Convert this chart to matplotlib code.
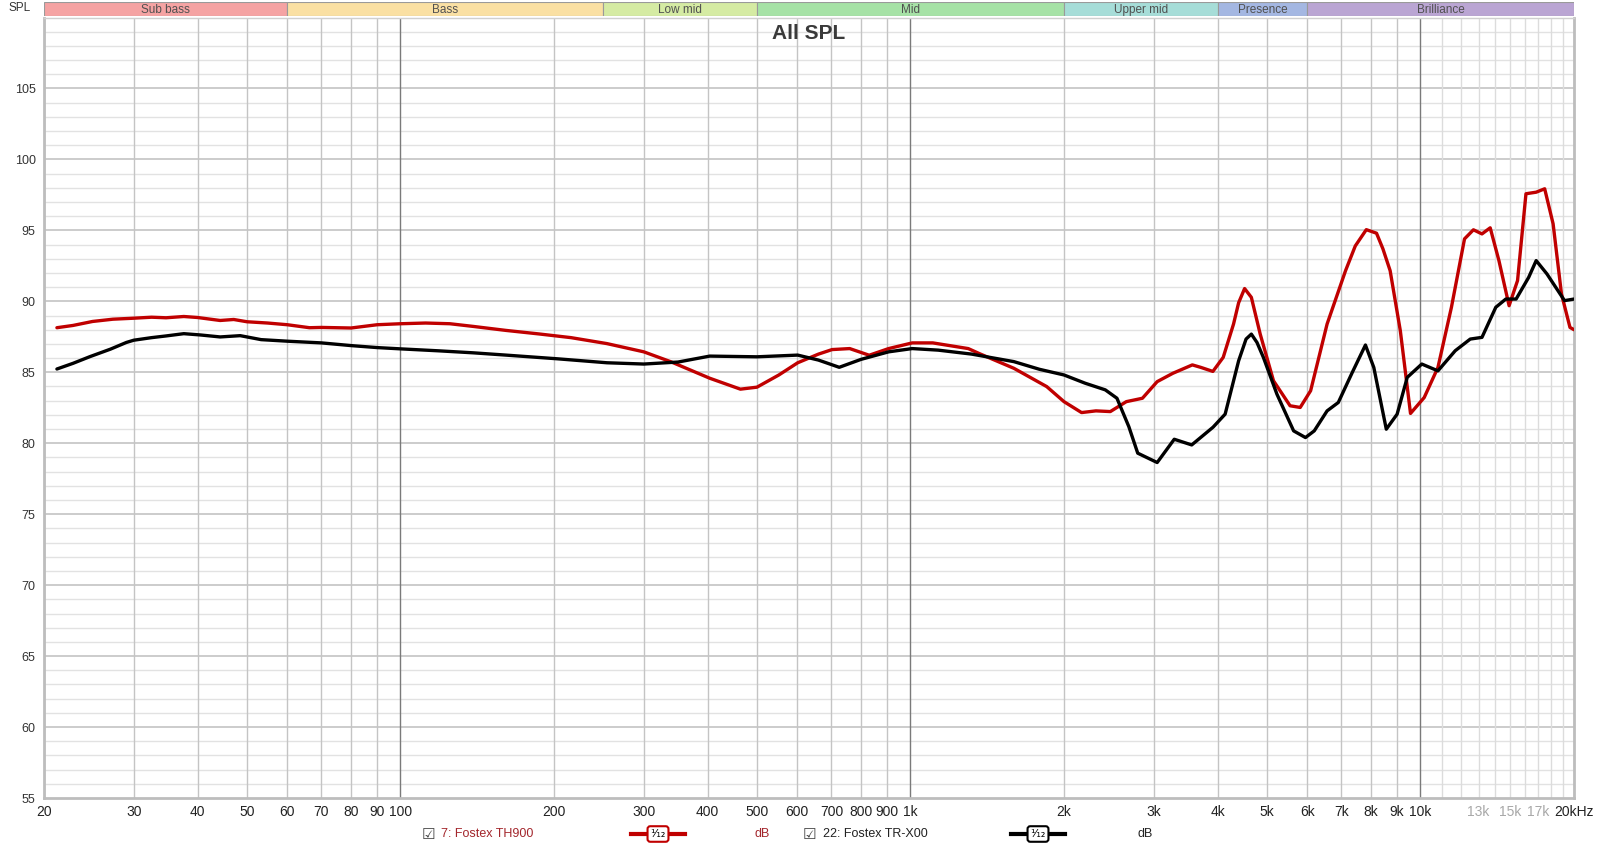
import matplotlib
matplotlib.use("Agg")
import matplotlib.pyplot as plt
from matplotlib.lines import Line2D

# ─── Data ───────────────────────────────────────────────────────────────────
th900_freq = [21.2, 22.8, 24.9, 27.3, 30, 32.5, 34.7, 37.6, 40, 44.3, 47.1, 50,
              54.9, 60, 66.3, 70, 80, 90, 100, 112, 125, 139, 161, 187, 216,
              254, 300, 339, 404, 464, 500, 552, 601, 660, 702, 760, 830, 906,
              1008, 1106, 1298, 1368, 1595, 1850, 2000, 2165, 2310, 2465, 2650,
              2850, 3046, 3270, 3570, 3713, 3917, 4104, 4300, 4400, 4520, 4660,
              4850, 5150, 5550, 5810, 6090, 6560, 7130, 7450, 7830, 8200, 8440,
              8720, 9130, 9560, 10170, 10820, 11500, 12200, 12700, 13200, 13700,
              14250, 14920, 15500, 16100, 16860, 17520, 18200, 18900, 19640, 20000]
th900_spl = [88.14, 88.3, 88.58, 88.74, 88.81, 88.88, 88.84, 88.93, 88.86, 88.65,
             88.72, 88.56, 88.47, 88.35, 88.14, 88.16, 88.12, 88.35, 88.42, 88.47,
             88.42, 88.23, 87.95, 87.7, 87.44, 87.02, 86.44, 85.74, 84.58, 83.81,
             83.95, 84.81, 85.67, 86.28, 86.6, 86.67, 86.2, 86.67, 87.07, 87.07,
             86.67, 86.3, 85.28, 83.99, 82.93, 82.16, 82.28, 82.23, 82.93, 83.17,
             84.34, 84.93, 85.52, 85.34, 85.06, 86.05, 88.4, 89.9, 90.9, 90.28,
             87.69, 84.4, 82.64, 82.52, 83.7, 88.4, 92.16, 93.9, 95.05, 94.8, 93.7,
             92.16, 87.93, 82.1, 83.22, 85.34, 89.58, 94.4, 95.04, 94.75, 95.18,
             92.87, 89.69, 91.46, 97.58, 97.69, 97.93, 95.46, 90.52, 88.16, 88.0]

trx00_freq = [21.2, 22.8, 24.6, 27, 29, 30, 32.5, 34.7, 37.6, 40.5, 44.3, 48.5,
              50, 53.3, 60, 70, 80, 90, 100, 119, 139, 161, 203, 254, 300, 350,
              404, 500, 601, 660, 725, 800, 906, 1008, 1133, 1318, 1595, 1790,
              2000, 2200, 2410, 2540, 2680, 2790, 3046, 3290, 3560, 3920, 4140,
              4400, 4550, 4660, 4780, 4920, 5230, 5640, 5950, 6190, 6560, 6900,
              7350, 7800, 8100, 8570, 9000, 9420, 10060, 10820, 11700, 12520,
              13200, 14050, 14700, 15400, 16300, 16860, 17700, 19160, 20000]
trx00_spl = [85.23, 85.63, 86.1, 86.63, 87.1, 87.26, 87.44, 87.56, 87.72, 87.63,
             87.49, 87.58, 87.49, 87.3, 87.19, 87.07, 86.88, 86.74, 86.65, 86.51,
             86.37, 86.21, 85.95, 85.67, 85.58, 85.72, 86.14, 86.09, 86.21, 85.86,
             85.35, 85.91, 86.44, 86.67, 86.56, 86.28, 85.75, 85.21, 84.81, 84.23,
             83.76, 83.17, 81.17, 79.3, 78.64, 80.28, 79.88, 81.13, 82.05, 85.81,
             87.34, 87.69, 87.1, 86.05, 83.46, 80.87, 80.4, 80.87, 82.28, 82.87,
             84.99, 86.92, 85.34, 80.99, 82.05, 84.64, 85.58, 85.1, 86.52, 87.34,
             87.46, 89.58, 90.16, 90.16, 91.69, 92.87, 91.93, 90.05, 90.16]

bands = ["Sub bass", "Bass", "Low mid", "Mid", "Upper mid", "Presence", "Brilliance"]
band_edges = [20, 60, 250, 500, 2000, 4000, 6000, 20000]
band_colors = ["#F5A3A3", "#FAE0A3", "#D5EBA3", "#A6E2A6", "#A6DDD8", "#A4B7E2", "#BAA5D3"]

xtick_freqs = [20, 30, 40, 50, 60, 70, 80, 90, 100, 200, 300, 400, 500, 600, 700,
               800, 900, 1000, 2000, 3000, 4000, 5000, 6000, 7000, 8000, 9000,
               10000, 13000, 15000, 17000, 20000]
xtick_labels = ["20", "30", "40", "50", "60", "70", "80", "90", "100", "200", "300",
                "400", "500", "600", "700", "800", "900", "1k", "2k", "3k", "4k",
                "5k", "6k", "7k", "8k", "9k", "10k", "13k", "15k", "17k", "20kHz"]
ytick_vals = [55, 60, 65, 70, 75, 80, 85, 90, 95, 100, 105]

RED = "#C00000"
LEGEND_RED = "#A3262C"
NARROW = ["Liberation Sans Narrow", "Liberation Sans", "DejaVu Sans"]

W, H = 1600, 848
fig = plt.figure(figsize=(W / 100, H / 100), dpi=100)
fig.patch.set_facecolor("white")

# ─── Main axes ──────────────────────────────────────────────────────────────
ax = fig.add_axes([44 / W, 50 / H, 1530 / W, 780.5 / H])
ax.set_xscale("log")
ax.set_xlim(20, 20000)
ax.set_ylim(55, 110)

# grid: 1 dB light, 5 dB darker
for db in range(56, 110):
    c = "#C4C4C4" if db % 5 == 0 else "#E2E2E2"
    ax.axhline(db, color=c, lw=1.2 if db % 5 == 0 else 1.0, zorder=0)

grid_freqs = [m * d for d in [10, 100, 1000] for m in range(1, 10) if 20 <= m * d <= 20000]
grid_freqs += list(range(10000, 20001, 1000))
for f in grid_freqs:
    if f in (100, 1000, 10000):
        ax.axvline(f, color="#7A7A7A", lw=1.0, zorder=0)
    elif f > 10000:
        ax.axvline(f, color="#DCDCDC", lw=1.0, zorder=0)
    else:
        ax.axvline(f, color="#C4C4C4", lw=1.0, zorder=0)

ax.plot(th900_freq, th900_spl, color=RED, lw=2.4, solid_joinstyle="round",
        solid_capstyle="round", zorder=3)
ax.plot(trx00_freq, trx00_spl, color="black", lw=2.4, solid_joinstyle="round",
        solid_capstyle="round", zorder=4)

ax.set_xticks(xtick_freqs)
ax.set_xticklabels(xtick_labels, family=NARROW, fontsize=10)
ax.xaxis.set_minor_locator(matplotlib.ticker.NullLocator())
for lbl, f in zip(ax.get_xticklabels(), xtick_freqs):
    lbl.set_color("#A8A8A8" if f in (13000, 15000, 17000) else "#222222")
ax.set_yticks(ytick_vals)
ax.set_yticklabels([str(v) for v in ytick_vals], fontsize=9, color="#333333",
                   family=["Liberation Sans", "DejaVu Sans"])
ax.tick_params(axis="both", length=0)
ax.tick_params(axis="x", pad=5)
ax.tick_params(axis="y", pad=6)
for side, sp in ax.spines.items():
    sp.set_color("#BDBDBD")
    sp.set_linewidth(2.0)
ax.spines["top"].set_color("#D0D0D0")
ax.spines["top"].set_linewidth(1.0)

ax.text(0.5, 0.979, "All SPL", transform=ax.transAxes, ha="center", va="center",
        fontsize=15, fontweight="bold", color="#3A3A3A",
        family=["Liberation Sans", "DejaVu Sans"])

# ─── Frequency band strip ───────────────────────────────────────────────────
bax = fig.add_axes([44 / W, (H - 16) / H, 1530 / W, 14 / H])
bax.set_xscale("log")
bax.set_xlim(20, 20000)
bax.set_ylim(0, 1)
bax.axis("off")
for name, lo, hi, col in zip(bands, band_edges[:-1], band_edges[1:], band_colors):
    bax.axvspan(lo, hi, ymin=0, ymax=1, facecolor=col, edgecolor="#9A9A9A", lw=0.8)
    bax.text((lo * hi) ** 0.5, 0.45, name, ha="center", va="center", fontsize=8.5,
             color="#505050", family=NARROW)

fig.text(20 / W, 1 - 8 / H, "SPL", ha="center", va="center", fontsize=8.5,
         color="#333333", family=["Liberation Sans", "DejaVu Sans"])

# ─── Legend row ─────────────────────────────────────────────────────────────
ly = 1 - 834 / H


def legend_entry(x_box, x_text, label, x_sym, x_db, color, txt_color):
    fig.text(x_box / W, ly, "☑", ha="center", va="center", fontsize=11, color="#444444")
    fig.text(x_text / W, ly, label, ha="left", va="center", fontsize=9,
             color=txt_color, family=NARROW)
    fig.add_artist(Line2D([(x_sym - 27) / W, (x_sym + 27) / W], [ly, ly],
                          transform=fig.transFigure, color=color, lw=3))
    fig.text(x_sym / W, ly, "¹⁄₁₂", ha="center", va="center", fontsize=8,
             color="black",
             bbox=dict(boxstyle="round,pad=0.25", fc="white", ec=color, lw=1.5))
    fig.text(x_db / W, ly, "dB", ha="center", va="center", fontsize=9,
             color=txt_color, family=NARROW)


legend_entry(428, 441, "7: Fostex TH900", 658, 762, RED, LEGEND_RED)
legend_entry(809, 823, "22: Fostex TR-X00", 1038, 1145, "black", "#222222")

fig.savefig("out.png", dpi=100)
